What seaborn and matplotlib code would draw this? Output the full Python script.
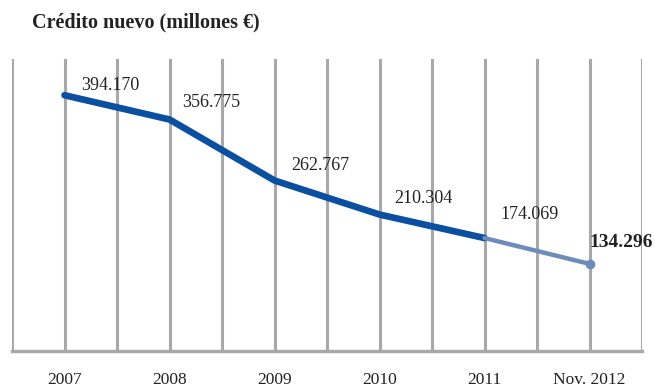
import matplotlib
matplotlib.use("Agg")
import matplotlib.pyplot as plt
import seaborn as sns
import pandas as pd
import numpy as np

# ===============================
# Datos
# ===============================
periodos = ["2007", "2008", "2009", "2010", "2011", "Nov. 2012"]
credito = [394.170, 356.775, 262.767, 210.304, 174.069, 134.296]
etiquetas = ["394.170", "356.775", "262.767", "210.304", "174.069", "134.296"]
# desplazamiento de cada etiqueta respecto al punto (px)
label_offsets = [(46, 10), (42, 17), (46, 15), (44, 16), (45, 24), (32, 21)]

df = pd.DataFrame({"pos": np.arange(len(periodos)), "credito": credito})

# ===============================
# Estilo
# ===============================
sns.set_style("white")
plt.rcParams["font.family"] = ["Liberation Serif", "DejaVu Serif"]

grey = "#A8A8AB"
dark_blue = "#0A4FA0"
light_blue = "#6E8CB9"

fig = plt.figure(figsize=(6.55, 3.87), dpi=100)
ax = fig.add_axes([12 / 655, 36 / 387, 630 / 655, 292 / 387])

# Tramo 2007-2011 (azul oscuro) y 2011-Nov.2012 (azul claro)
sns.lineplot(data=df.iloc[:5], x="pos", y="credito", color=dark_blue,
             linewidth=4.8, ax=ax, solid_capstyle="round")
sns.lineplot(data=df.iloc[4:], x="pos", y="credito", color=light_blue,
             linewidth=3.2, ax=ax, solid_capstyle="round")
ax.plot(df["pos"].iloc[-1], df["credito"].iloc[-1], marker="o", markersize=6,
        color=light_blue, zorder=5)

# Etiquetas de valores
for i, (val, txt) in enumerate(zip(credito, etiquetas)):
    dx, dy = label_offsets[i]
    bold = i == len(credito) - 1
    ax.annotate(txt, (i, val), xytext=(dx * 0.72, dy * 0.72),
                textcoords="offset points", ha="center", va="center",
                fontsize=14 if bold else 13,
                fontweight="bold" if bold else "normal", color="#222222")

# Ejes y rejilla vertical
ax.set_xlim(-0.5, len(periodos) - 0.5)
ax.set_ylim(0, 450)
ax.set_xticks(np.arange(len(periodos)))
ax.set_xticklabels(periodos, fontsize=12.5, color="#222222")
ax.set_xticks(np.arange(-0.5, len(periodos), 1.0), minor=True)
for x in np.arange(-0.5, len(periodos), 0.5):
    ax.axvline(x, color=grey, linewidth=2.2, zorder=0)

ax.tick_params(axis="x", which="major", length=0, pad=15)
ax.tick_params(axis="x", which="minor", length=4.5, width=2.2, color=grey,
               direction="out")
ax.set_yticks([])
ax.set_xlabel("")
ax.set_ylabel("")
for side in ["top", "right", "left"]:
    ax.spines[side].set_visible(False)
ax.spines["bottom"].set_color(grey)
ax.spines["bottom"].set_linewidth(2.4)

fig.text(32 / 655, 1 - 22 / 387, "Crédito nuevo (millones €)", fontsize=14.5,
         fontweight="bold", va="center", ha="left", color="#222222")

fig.savefig("out.png", dpi=100)
